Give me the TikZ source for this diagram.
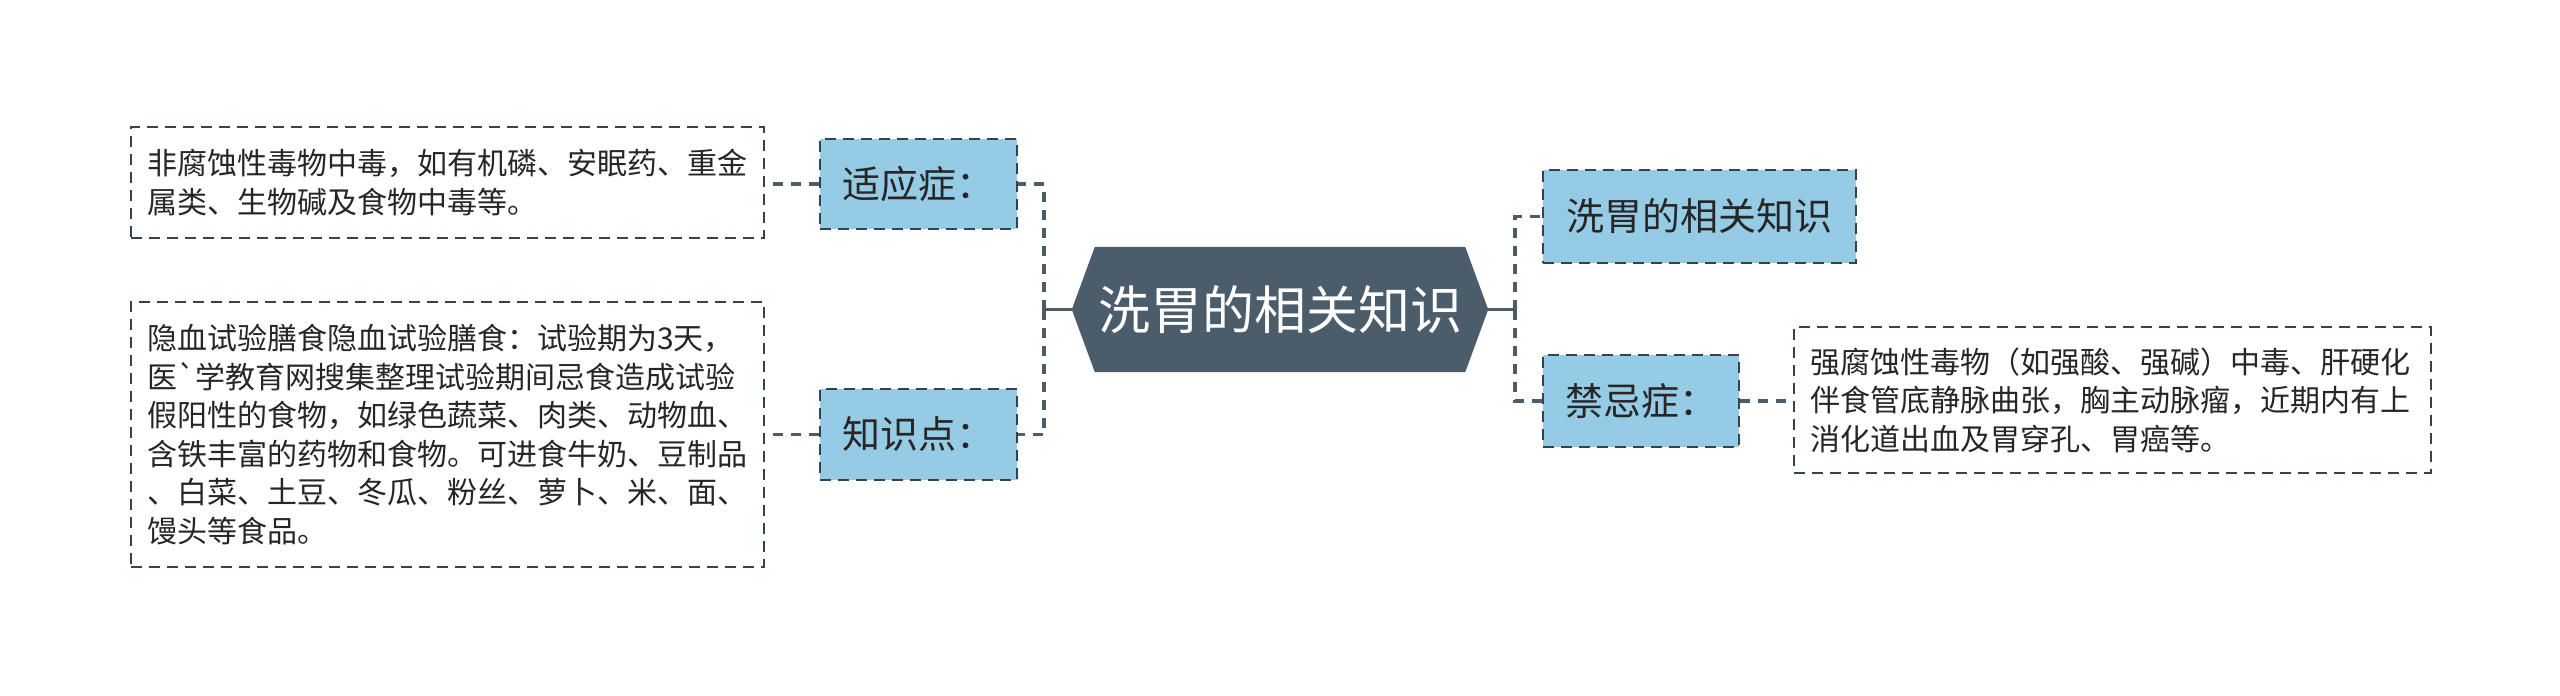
\documentclass[tikz,border=0pt]{standalone}
\usepackage{fontspec}
\setmainfont{Noto Sans CJK SC}[Ligatures=TeXOff]
\usetikzlibrary{backgrounds}
\definecolor{hexfill}{HTML}{4B5C6B}
\definecolor{lblfill}{HTML}{95CBE4}
\definecolor{bordc}{HTML}{33434F}
\definecolor{connc}{HTML}{4B5C6B}
\definecolor{txtc}{HTML}{262626}
\tikzset{
  lbl/.style={draw=bordc, fill=lblfill, line width=2.6pt, dash pattern=on 11pt off 7pt,
    inner sep=0pt, text=txtc, font=\fontsize{38}{46}\selectfont, anchor=center},
  txtbox/.style={draw=bordc, line width=2pt, dash pattern=on 11pt off 7pt,
    inner xsep=16pt, inner ysep=0pt, text=txtc, align=left,
    font=\fontsize{30}{38.5}\selectfont, anchor=center},
  centerbox/.style={inner sep=0pt, minimum width=416pt, minimum height=125pt,
    text=white, font=\fontsize{52}{60}\selectfont},
  solidconn/.style={draw=connc, line width=3.6pt},
  dashconn/.style={draw=connc, line width=3.6pt, dash pattern=on 10pt off 8pt},
}
\begin{document}
\begin{tikzpicture}[x=1pt,y=-1pt]
\useasboundingbox (0,0) rectangle (2560,696);

% central topic
\node[centerbox] (c) at (1280,309.5) {洗胃的相关知识};
\begin{scope}[on background layer]
\fill[white] (0,0) rectangle (2560,696);
\fill[hexfill] (c.west) -- ([xshift=23pt]c.north west) -- ([xshift=-23pt]c.north east)
  -- (c.east) -- ([xshift=-23pt]c.south east) -- ([xshift=23pt]c.south west) -- cycle;
\end{scope}

% left labels
\node[lbl, minimum width=197pt, minimum height=90pt] (l1) at (918.5,184) {适应症：};
\node[lbl, minimum width=197pt, minimum height=91pt] (l2) at (918.5,434.5) {知识点：};

% right labels
\node[lbl, minimum width=313pt, minimum height=93pt] (r1) at (1699.5,216.5) {洗胃的相关知识};
\node[lbl, minimum width=196pt, minimum height=92pt] (r2) at (1641,401) {禁忌症：};

% text boxes
\node[txtbox, text width=601pt, minimum height=111pt] (t1) at (447.5,182.5)
  {非腐蚀性毒物中毒，如有机磷、安眠药、重金\\属类、生物碱及食物中毒等。};
\node[txtbox, text width=601pt, minimum height=265pt] (t2) at (447.5,434.5)
  {隐血试验膳食隐血试验膳食：试验期为3天，\\医\symbol{96}学教育网搜集整理试验期间忌食造成试验\\假阳性的食物，如绿色蔬菜、肉类、动物血、\\含铁丰富的药物和食物。可进食牛奶、豆制品\\、白菜、土豆、冬瓜、粉丝、萝卜、米、面、\\馒头等食品。};
\node[txtbox, text width=605pt, minimum height=146pt] (t3) at (2112.5,400)
  {强腐蚀性毒物（如强酸、强碱）中毒、肝硬化\\伴食管底静脉曲张，胸主动脉瘤，近期内有上\\消化道出血及胃穿孔、胃癌等。};

% connectors
\coordinate (lt) at (1044,309.5);
\coordinate (rt) at (1515,309.5);
\draw[solidconn] (c.west) -- (lt);
\draw[solidconn] (c.east) -- (rt);
\draw[dashconn] (lt) |- (l1.east);
\draw[dashconn] (lt) |- (l2.east);
\draw[dashconn] (rt) |- (r1.west);
\draw[dashconn] (rt) |- (r2.west);
\draw[dashconn] (l1.west) -- (l1.west -| t1.east);
\draw[dashconn] (l2.west) -- (l2.west -| t2.east);
\draw[dashconn] (r2.east) -- (r2.east -| t3.west);
\end{tikzpicture}
\end{document}
